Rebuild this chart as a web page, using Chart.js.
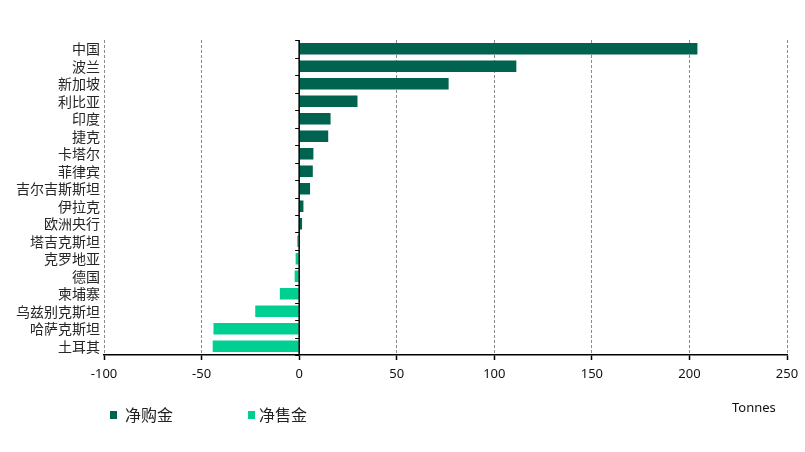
<!DOCTYPE html>
<html>
<head>
<meta charset="utf-8">
<title>各国央行黄金净购/净售</title>
<script src="https://cdn.jsdelivr.net/npm/chart.js@4.4.1/dist/chart.umd.min.js"></script>
<style>
    html, body { margin: 0; padding: 0; background: #fff; }
    #wrap { width: 805px; height: 452px; }
</style>
</head>
<body>
<div id="wrap"><canvas id="goldChart" width="805" height="452"></canvas></div>
<script>
// Data (tonnes)
const countries = ['中国', '波兰', '新加坡', '利比亚', '印度', '捷克', '卡塔尔', '菲律宾', '吉尔吉斯斯坦',
    '伊拉克', '欧洲央行', '塔吉克斯坦', '克罗地亚', '德国', '柬埔寨', '乌兹别克斯坦', '哈萨克斯坦', '土耳其'];
const netChange = [204.1, 111.3, 76.6, 29.9, 16.1, 14.9, 7.3, 7.0, 5.6,
    2.2, 1.5, -1.0, -1.8, -2.3, -9.9, -22.5, -43.9, -44.3];
const xTicks = [-100, -50, 0, 50, 100, 150, 200, 250];
const seriesNames = ['净购金', '净售金'];
const unitLabel = 'Tonnes';

const buyColor = '#00634f';
const sellColor = '#00cf92';

// Split into buyers / sellers
const netBuy = netChange.map(v => (v > 0 ? v : null));
const netSell = netChange.map(v => (v < 0 ? v : null));

// Zero axis with small ticks between categories + custom legend & unit
const extrasPlugin = {
    id: 'extras',
    afterDatasetsDraw(chart) {
        const { ctx, chartArea, scales } = chart;
        const x0 = scales.x.getPixelForValue(0);
        const half = (scales.y.getPixelForValue(1) - scales.y.getPixelForValue(0)) / 2;
        ctx.save();
        ctx.strokeStyle = '#000';
        ctx.lineWidth = 1.5;
        ctx.beginPath();
        ctx.moveTo(x0, chartArea.top);
        ctx.lineTo(x0, chartArea.bottom);
        ctx.stroke();
        ctx.lineWidth = 1;
        for (let i = 0; i <= countries.length; i++) {
            const y = Math.round(scales.y.getPixelForValue(i) - half) + 0.5;
            ctx.beginPath();
            ctx.moveTo(x0 - 4, y);
            ctx.lineTo(x0, y);
            ctx.stroke();
        }
        ctx.restore();
    },
    afterDraw(chart) {
        const { ctx } = chart;
        ctx.save();
        // legend
        const items = [
            { name: seriesNames[0], color: buyColor, box: 110, text: 125 },
            { name: seriesNames[1], color: sellColor, box: 248, text: 259 }
        ];
        ctx.font = '16px "Noto Sans CJK SC"';
        ctx.textBaseline = 'middle';
        ctx.textAlign = 'left';
        items.forEach(it => {
            ctx.fillStyle = it.color;
            ctx.fillRect(it.box, 411, 7, 8);
            ctx.fillStyle = '#222';
            ctx.fillText(it.name, it.text, 415);
        });
        // unit label
        ctx.font = '13px "Noto Sans"';
        ctx.fillStyle = '#111';
        ctx.fillText(unitLabel, 732, 408);
        ctx.restore();
    }
};

const ctx = document.getElementById('goldChart').getContext('2d');
new Chart(ctx, {
    type: 'bar',
    data: {
        labels: countries,
        datasets: [
            {
                label: seriesNames[0],
                data: netBuy,
                backgroundColor: buyColor,
                borderWidth: 0,
                barPercentage: 0.66,
                categoryPercentage: 1
            },
            {
                label: seriesNames[1],
                data: netSell,
                backgroundColor: sellColor,
                borderWidth: 0,
                barPercentage: 0.66,
                categoryPercentage: 1
            }
        ]
    },
    options: {
        indexAxis: 'y',
        responsive: false,
        animation: false,
        devicePixelRatio: 1,
        layout: { padding: { top: 40, right: 18, bottom: 67, left: 0 } },
        plugins: {
            legend: { display: false },
            tooltip: { enabled: false }
        },
        scales: {
            x: {
                stacked: true,
                min: xTicks[0],
                max: xTicks[xTicks.length - 1],
                afterBuildTicks: scale => { scale.ticks = xTicks.map(v => ({ value: v })); },
                afterFit: scale => { scale.height = 30; },
                grid: {
                    color: '#8a8a8a',
                    lineWidth: 1,
                    drawTicks: true,
                    tickLength: 5,
                    tickColor: '#000',
                    tickWidth: 1.5,
                    tickBorderDash: []
                },
                border: { display: true, color: '#000', width: 1.5, dash: [3, 2] },
                ticks: {
                    padding: 6,
                    color: '#111',
                    font: { family: 'Noto Sans', size: 13 }
                }
            },
            y: {
                stacked: true,
                afterFit: scale => { scale.width = 104; },
                grid: { display: false, drawTicks: false },
                border: { display: false },
                ticks: {
                    padding: 4,
                    color: '#262626',
                    autoSkip: false,
                    font: { family: 'Noto Sans CJK SC', size: 14 }
                }
            }
        }
    },
    plugins: [extrasPlugin]
});
</script>
</body>
</html>
